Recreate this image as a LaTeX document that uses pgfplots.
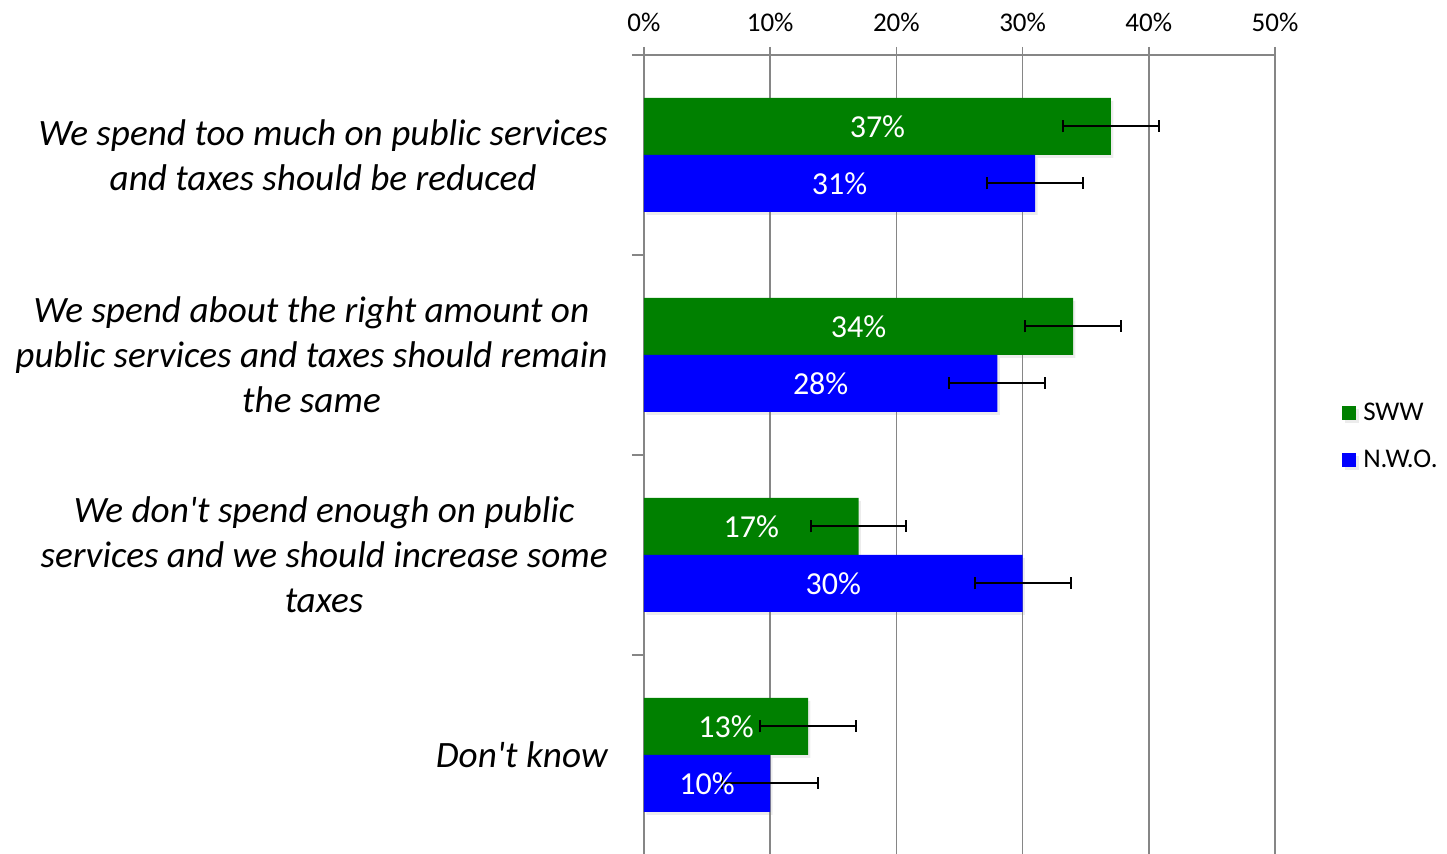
\documentclass[border=0pt]{standalone}
\usepackage{pgfplots}
\usepackage{pgfplotstable}
\pgfplotsset{compat=1.18}
\usetikzlibrary{shadows}
\usepackage{fontspec}
\setmainfont{Carlito}[Ligatures=TeXOff]
\definecolor{swwgreen}{RGB}{0,128,0}
\definecolor{nwoblue}{RGB}{0,0,255}
\definecolor{gridgray}{RGB}{134,134,134}

\pgfplotstableread{
y sww nwo
3 37 31
2 34 28
1 17 30
0 13 10
}\datatab

\begin{document}
\begin{tikzpicture}
\begin{axis}[
  at={(0,0)}, anchor=south west,
  scale only axis,
  width=315.5pt, height=400pt,
  xmin=0, xmax=50, ymin=-0.5, ymax=3.5,
  axis x line*=top, axis y line*=left,
  axis line style={-, draw=gridgray, line width=0.75pt},
  xtick={0,10,20,30,40,50},
  xticklabels={0\%,10\%,20\%,30\%,40\%,50\%},
  xticklabel style={font=\fontsize{13.5}{16}\selectfont, yshift=4pt},
  xmajorgrids,
  grid style={draw=gridgray, line width=0.75pt},
  tick align=outside,
  major tick length=4pt,
  minor tick length=6pt,
  tick style={draw=gridgray, line width=0.75pt},
  major y tick style={draw=none},
  ytick={0,1,2,3},
  minor ytick={-0.5,0.5,1.5,2.5,3.5},
  yticklabels={{Don't know},
    {We don't spend enough on public\\services and we should increase some\\taxes},
    {We spend about the right amount on\\public services and taxes should remain\\the same},
    {We spend too much on public services\\and taxes should be reduced}},
  yticklabel style={align=center, font=\fontsize{18.6}{22.5}\selectfont\itshape, inner sep=0pt, xshift=-14pt},
  xbar, bar width=28.5pt, bar shift=0pt,
  legend style={at={(1.106,0.523)}, anchor=west, draw=none, fill=none,
    font=\fontsize{13.5}{15}\selectfont, row sep=9pt, inner sep=0pt,
    nodes={inner xsep=3.5pt}},
  legend cell align=left,
  legend image code/.code={\fill[#1,draw=none] (0pt,-3.5pt) rectangle (7pt,3.5pt);},
]
\addplot[fill=swwgreen, draw=none, drop shadow={shadow xshift=1.2pt, shadow yshift=-1.5pt, opacity=0.15}] table[x=sww, y expr=\thisrow{y}+0.1425] {\datatab};
\addlegendentry{SWW}
\addplot[fill=nwoblue, draw=none, drop shadow={shadow xshift=1.2pt, shadow yshift=-1.5pt, opacity=0.15}] table[x=nwo, y expr=\thisrow{y}-0.1425] {\datatab};
\addlegendentry{N.W.O.}

% error bars
\addplot[forget plot, draw=none, mark=none,
  error bars/.cd, x dir=both, x fixed=3.8,
  error bar style={black, line width=1pt},
  error mark options={black, line width=1pt, mark size=3pt, rotate=90}]
  table[x=sww, y expr=\thisrow{y}+0.1425] {\datatab};
\addplot[forget plot, draw=none, mark=none,
  error bars/.cd, x dir=both, x fixed=3.8,
  error bar style={black, line width=1pt},
  error mark options={black, line width=1pt, mark size=3pt, rotate=90}]
  table[x=nwo, y expr=\thisrow{y}-0.1425] {\datatab};

% value labels
\addplot[forget plot, draw=none, fill=none, bar width=0pt, only marks, mark=none,
  nodes near coords={\pgfmathprintnumber[assume math mode=true]{\pgfplotspointmeta}\%},
  point meta=explicit,
  every node near coord/.style={anchor=center, text=white, font=\fontsize{16}{19}\selectfont}]
  table[x expr=\thisrow{sww}/2, y expr=\thisrow{y}+0.1425, meta=sww] {\datatab};
\addplot[forget plot, draw=none, fill=none, bar width=0pt, only marks, mark=none,
  nodes near coords={\pgfmathprintnumber[assume math mode=true]{\pgfplotspointmeta}\%},
  point meta=explicit,
  every node near coord/.style={anchor=center, text=white, font=\fontsize{16}{19}\selectfont}]
  table[x expr=\thisrow{nwo}/2, y expr=\thisrow{y}-0.1425, meta=nwo] {\datatab};
\end{axis}
\pgfresetboundingbox
\path[use as bounding box] (-322pt,0.5pt) rectangle (401.5pt,427.5pt);
\end{tikzpicture}
\end{document}
